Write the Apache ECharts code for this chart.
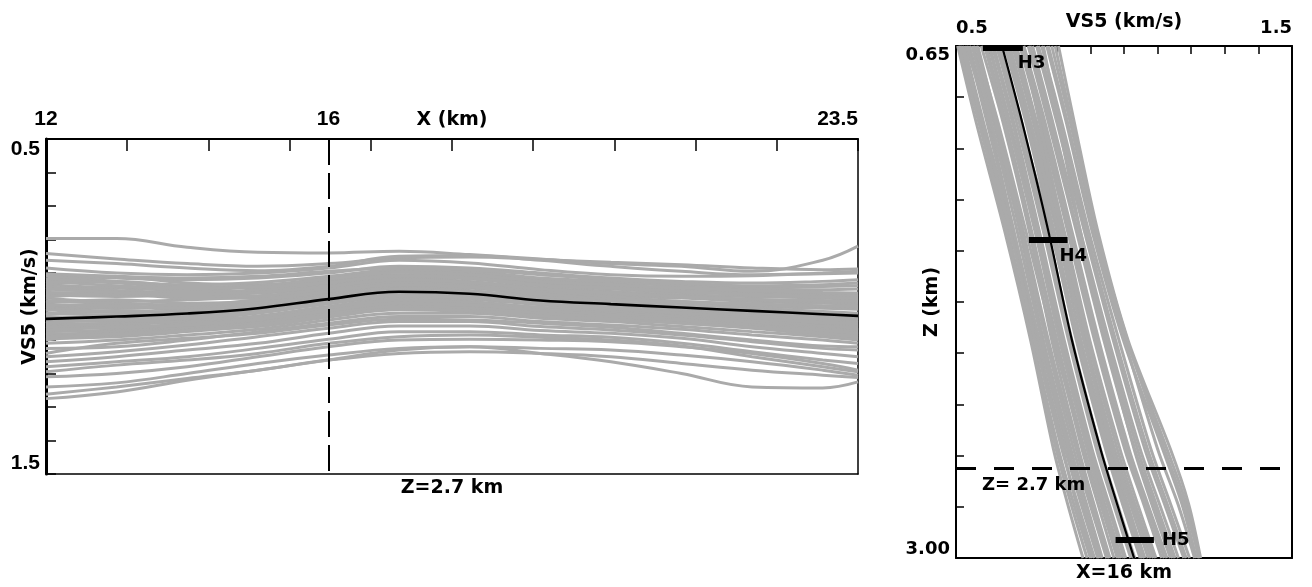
<!DOCTYPE html>
<html><head><meta charset="utf-8">
<script src="https://cdn.jsdelivr.net/npm/echarts@6/dist/echarts.min.js"></script>
<style>html,body{margin:0;padding:0;background:#fff}#c{width:1312px;height:587px}</style>
</head><body><div id="c"></div>
<script>
// ---------- Left panel: VS5 along X at Z = 2.7 km ----------
const xKm = [12, 13, 14, 15, 16, 17, 18, 19, 20, 21, 22, 23, 23.5];
const vsMeanAlongX = [1.037, 1.030, 1.021, 1.005, 0.978, 0.956, 0.962, 0.982, 0.993, 1.003, 1.013, 1.023, 1.028];
const vsRealizationsAlongX = [
  [0.797,0.797,0.823,0.838,0.840,0.835,0.845,0.858,0.872,0.880,0.895,0.862,0.820],
  [0.842,0.858,0.872,0.880,0.872,0.855,0.852,0.860,0.868,0.875,0.885,0.890,0.888],
  [0.862,0.872,0.885,0.893,0.880,0.850,0.848,0.862,0.880,0.895,0.905,0.902,0.900],
  [0.885,0.900,0.905,0.900,0.885,0.862,0.870,0.890,0.905,0.910,0.908,0.900,0.895],
  [0.905,0.915,0.920,0.915,0.900,0.880,0.885,0.900,0.915,0.925,0.930,0.925,0.920],
  [0.920,0.912,0.930,0.935,0.915,0.895,0.900,0.920,0.930,0.935,0.945,0.940,0.938],
  [0.935,0.945,0.950,0.940,0.920,0.905,0.912,0.930,0.940,0.950,0.955,0.960,0.962],
  [0.950,0.940,0.955,0.955,0.935,0.915,0.925,0.945,0.955,0.965,0.970,0.975,0.978],
  [0.965,0.970,0.965,0.960,0.945,0.925,0.930,0.952,0.968,0.975,0.985,0.990,0.992],
  [0.975,0.985,0.980,0.970,0.950,0.930,0.940,0.960,0.975,0.990,1.000,1.005,1.008],
  [0.990,0.980,0.990,0.985,0.958,0.940,0.945,0.968,0.985,0.995,1.005,1.015,1.020],
  [1.000,1.005,1.000,0.990,0.965,0.945,0.952,0.975,0.990,1.005,1.018,1.030,1.035],
  [1.012,1.000,1.010,1.000,0.972,0.950,0.958,0.980,0.998,1.010,1.025,1.040,1.045],
  [1.020,1.025,1.015,1.005,0.980,0.960,0.962,0.985,1.000,1.020,1.035,1.050,1.055],
  [1.045,1.040,1.030,1.012,0.985,0.965,0.970,0.990,1.005,1.015,1.030,1.045,1.050],
  [1.055,1.050,1.040,1.020,0.992,0.972,0.978,0.995,1.010,1.025,1.040,1.055,1.060],
  [1.065,1.055,1.045,1.028,1.000,0.978,0.985,1.005,1.018,1.030,1.045,1.060,1.068],
  [1.075,1.070,1.060,1.040,1.010,0.985,0.990,1.010,1.022,1.035,1.050,1.062,1.070],
  [1.085,1.075,1.065,1.045,1.018,0.995,1.000,1.018,1.030,1.040,1.055,1.070,1.078],
  [1.095,1.090,1.075,1.055,1.025,1.005,1.008,1.025,1.035,1.045,1.060,1.075,1.085],
  [1.110,1.100,1.085,1.068,1.040,1.020,1.020,1.035,1.045,1.060,1.075,1.090,1.100],
  [1.125,1.120,1.100,1.075,1.050,1.030,1.030,1.045,1.055,1.068,1.085,1.100,1.110],
  [1.150,1.135,1.115,1.090,1.065,1.045,1.045,1.060,1.070,1.085,1.105,1.125,1.130],
  [1.165,1.150,1.130,1.110,1.080,1.058,1.058,1.072,1.080,1.095,1.120,1.140,1.150],
  [1.180,1.165,1.150,1.125,1.098,1.075,1.075,1.085,1.092,1.110,1.135,1.160,1.170],
  [1.210,1.200,1.180,1.150,1.120,1.100,1.098,1.100,1.105,1.120,1.140,1.170,1.190],
  [1.240,1.228,1.200,1.170,1.145,1.125,1.120,1.125,1.130,1.145,1.165,1.190,1.205],
  [1.262,1.240,1.215,1.190,1.160,1.140,1.135,1.140,1.150,1.170,1.190,1.205,1.212],
  [1.275,1.255,1.220,1.190,1.160,1.130,1.120,1.140,1.165,1.200,1.240,1.243,1.225],
  [0.930,0.925,0.940,0.945,0.925,0.905,0.905,0.925,0.938,0.948,0.958,0.965,0.970],
  [1.030,1.035,1.025,1.005,0.978,0.958,0.965,0.985,0.998,1.010,1.022,1.030,1.030],
  [1.005,1.015,1.020,1.010,0.985,0.962,0.968,0.990,1.005,1.012,1.020,1.035,1.040],
  [0.958,0.960,0.975,0.975,0.955,0.935,0.938,0.955,0.970,0.985,0.995,1.000,1.002],
  [1.045,1.060,1.055,1.040,1.008,0.988,0.995,1.012,1.025,1.038,1.052,1.072,1.082],
  [1.100,1.080,1.070,1.060,1.032,1.010,1.015,1.030,1.040,1.050,1.065,1.085,1.095],
  [0.910,0.925,0.935,0.928,0.910,0.890,0.895,0.915,0.925,0.940,0.948,0.950,0.948],
  [1.140,1.110,1.095,1.080,1.055,1.038,1.040,1.050,1.062,1.080,1.100,1.118,1.120],
  [1.195,1.175,1.160,1.140,1.110,1.090,1.085,1.092,1.100,1.118,1.150,1.180,1.195],
  [0.918,0.930,0.942,0.938,0.918,0.898,0.905,0.925,0.935,0.945,0.952,0.958,0.960],
  [0.942,0.952,0.958,0.950,0.930,0.910,0.918,0.938,0.948,0.958,0.962,0.968,0.970],
  [0.972,0.962,0.970,0.968,0.948,0.928,0.935,0.955,0.962,0.972,0.980,0.985,0.988],
  [0.982,0.992,0.995,0.980,0.955,0.935,0.942,0.962,0.978,0.985,0.992,0.998,1.000],
  [0.995,0.998,1.005,0.995,0.968,0.948,0.955,0.972,0.985,0.998,1.008,1.020,1.025],
  [1.010,1.018,1.012,0.998,0.975,0.952,0.960,0.978,0.992,1.005,1.015,1.025,1.030],
  [1.025,1.012,1.018,1.008,0.982,0.962,0.968,0.988,1.002,1.015,1.028,1.042,1.048],
  [1.040,1.045,1.035,1.018,0.990,0.968,0.975,0.992,1.008,1.020,1.035,1.048,1.052],
  [1.050,1.040,1.048,1.030,1.002,0.980,0.988,1.002,1.015,1.028,1.042,1.058,1.062],
  [1.060,1.065,1.050,1.035,1.005,0.982,0.988,1.008,1.020,1.032,1.048,1.065,1.072],
  [1.070,1.062,1.055,1.038,1.012,0.990,0.995,1.012,1.025,1.038,1.055,1.068,1.075],
  [1.080,1.085,1.070,1.050,1.022,1.000,1.005,1.020,1.032,1.042,1.058,1.072,1.080],
  [0.948,0.958,0.962,0.958,0.940,0.920,0.928,0.948,0.960,0.970,0.978,0.982,0.985],
  [0.925,0.938,0.945,0.942,0.928,0.908,0.915,0.935,0.945,0.955,0.965,0.972,0.975],
  [0.902,0.910,0.915,0.910,0.895,0.885,0.890,0.905,0.920,0.930,0.938,0.935,0.930],
  [1.090,1.082,1.072,1.055,1.028,1.008,1.012,1.028,1.038,1.050,1.062,1.080,1.090]
];
const xTickLabels = [12, 16, 23.5];
const sectionX = 16;

// ---------- Right panel: VS5 profile with depth at X = 16 km ----------
const zKm = [0.65, 1.0, 1.5, 2.0, 2.5, 2.75, 3.0];
const vsMeanAlongZ = [0.637, 0.697, 0.775, 0.845, 0.930, 0.979, 1.030];
const vsRealizationsAlongZ = [
  [0.505,0.560,0.645,0.722,0.790,0.832,0.878],
  [0.512,0.575,0.655,0.728,0.805,0.850,0.900],
  [0.525,0.582,0.668,0.740,0.825,0.872,0.922],
  [0.540,0.598,0.672,0.742,0.818,0.858,0.905],
  [0.552,0.612,0.690,0.760,0.842,0.888,0.935],
  [0.565,0.622,0.700,0.775,0.858,0.905,0.955],
  [0.575,0.640,0.718,0.785,0.865,0.910,0.958],
  [0.590,0.648,0.725,0.800,0.882,0.930,0.980],
  [0.600,0.660,0.742,0.812,0.895,0.942,0.992],
  [0.612,0.672,0.748,0.822,0.905,0.955,1.005],
  [0.622,0.680,0.760,0.835,0.918,0.968,1.020],
  [0.632,0.695,0.772,0.845,0.930,0.980,1.032],
  [0.645,0.708,0.785,0.858,0.945,0.995,1.048],
  [0.655,0.715,0.800,0.872,0.958,1.008,1.062],
  [0.668,0.730,0.808,0.885,0.972,1.025,1.080],
  [0.680,0.740,0.822,0.898,0.988,1.040,1.095],
  [0.690,0.752,0.832,0.912,1.002,1.058,1.112],
  [0.702,0.765,0.845,0.925,1.015,1.070,1.128],
  [0.715,0.775,0.858,0.940,1.032,1.088,1.145],
  [0.728,0.788,0.870,0.955,1.048,1.105,1.162],
  [0.740,0.800,0.882,0.968,1.062,1.120,1.178],
  [0.755,0.815,0.895,0.985,1.080,1.138,1.195],
  [0.770,0.828,0.905,0.998,1.115,1.172,1.215],
  [0.785,0.840,0.915,1.008,1.128,1.185,1.222],
  [0.805,0.852,0.922,1.012,1.138,1.192,1.228],
  [0.560,0.625,0.708,0.790,0.880,0.932,0.985],
  [0.700,0.748,0.820,0.885,0.962,1.010,1.060],
  [0.620,0.690,0.782,0.862,0.952,1.002,1.052],
  [0.760,0.805,0.870,0.945,1.030,1.082,1.138],
  [0.530,0.600,0.695,0.772,0.860,0.905,0.950],
  [0.508,0.568,0.650,0.725,0.798,0.842,0.890],
  [0.518,0.578,0.662,0.735,0.815,0.862,0.912],
  [0.535,0.592,0.672,0.748,0.832,0.880,0.928],
  [0.548,0.605,0.682,0.755,0.835,0.880,0.925],
  [0.560,0.618,0.695,0.768,0.850,0.898,0.948],
  [0.585,0.645,0.722,0.795,0.875,0.922,0.970],
  [0.608,0.668,0.745,0.818,0.900,0.950,1.000],
  [0.628,0.688,0.765,0.840,0.925,0.975,1.028],
  [0.650,0.712,0.792,0.865,0.952,1.002,1.055],
  [0.672,0.735,0.815,0.892,0.980,1.032,1.088],
  [0.695,0.758,0.838,0.918,1.008,1.065,1.120],
  [0.720,0.782,0.862,0.948,1.040,1.095,1.152],
  [0.745,0.808,0.888,0.975,1.070,1.128,1.185],
  [0.775,0.832,0.908,1.002,1.100,1.160,1.210],
  [0.795,0.845,0.918,1.010,1.120,1.178,1.225],
  [0.660,0.722,0.805,0.880,0.965,1.018,1.072],
  [0.598,0.655,0.735,0.808,0.890,0.938,0.988]
];
const sectionZ = 2.59;
const horizonNames = ['H3', 'H4', 'H5'];
const horizonDepth = [0.659, 1.540, 2.917];
const horizonVsFrom = [0.580, 0.717, 0.975];
const horizonVsTo = [0.699, 0.832, 1.089];

// ---------- styles ----------
const GRAY = '#aaaaaa';
const NUM = 'Liberation Sans';
const NAMEF = 'DejaVu Sans';
const numStyle = {color:'#000', fontFamily:NUM, fontWeight:'bold', fontSize:21};
const rStyle = {color:'#000', fontFamily:NAMEF, fontWeight:'bold', fontSize:18};
const nameStyleL = {color:'#000', fontFamily:NAMEF, fontWeight:'bold', fontSize:19};

const series = [];
vsRealizationsAlongX.forEach(r => series.push({
  type:'line', xAxisIndex:0, yAxisIndex:0, data:xKm.map((x,i)=>[x,r[i]]),
  smooth:0.4, symbol:'none', silent:true, lineStyle:{color:GRAY,width:3}, z:2
}));
series.push({
  type:'line', xAxisIndex:0, yAxisIndex:0, data:xKm.map((x,i)=>[x,vsMeanAlongX[i]]),
  smooth:0.4, symbol:'none', silent:true, lineStyle:{color:'#000',width:2.6}, z:4,
  markLine:{symbol:'none', silent:true, animation:false, label:{show:false},
    lineStyle:{color:'#000', width:2, type:[26,8]}, data:[{xAxis:sectionX}]}
});
vsRealizationsAlongZ.forEach(r => series.push({
  type:'line', xAxisIndex:2, yAxisIndex:2, data:zKm.map((z,i)=>[r[i],z]),
  smooth:0.3, symbol:'none', silent:true, lineStyle:{color:GRAY,width:3}, z:2
}));
series.push({
  type:'line', xAxisIndex:2, yAxisIndex:2, data:zKm.map((z,i)=>[vsMeanAlongZ[i],z]),
  smooth:0.3, symbol:'none', silent:true, lineStyle:{color:'#000',width:2.2}, z:4,
  markLine:{symbol:'none', silent:true, animation:false,
    lineStyle:{color:'#000', width:3, type:[20,18]},
    label:{show:true, formatter:'Z= 2.7 km', position:'insideStartBottom', distance:[26,8], ...rStyle, fontSize:18},
    data:[{yAxis:sectionZ}]}
});
const hOffsets = [[-10,15],[-13,16],[3,0]];
horizonNames.forEach((n,i) => series.push({
  type:'line', xAxisIndex:2, yAxisIndex:2,
  data:[[horizonVsFrom[i],horizonDepth[i]],[horizonVsTo[i],horizonDepth[i]]],
  symbol:'none', silent:true, lineStyle:{color:'#000',width:6}, z:6,
  endLabel:{show:true, formatter:n, offset:hOffsets[i], distance:5, ...rStyle}
}));

const option = {
  animation:false,
  backgroundColor:'#fff',
  grid:[
    {left:46, top:139, width:812, height:335, containLabel:false, outerBoundsMode:'none'},
    {left:956, top:46, width:336, height:512, containLabel:false, outerBoundsMode:'none'}
  ],
  xAxis:[
    {gridIndex:0, type:'value', position:'top', min:12, max:23.5, interval:1.15,
     name:'X (km)', nameLocation:'middle', nameGap:9, nameMoveOverlap:false,
     nameTextStyle:{...nameStyleL, verticalAlign:'bottom'},
     axisLine:{show:true, onZero:false, lineStyle:{color:'#000', width:2}},
     axisTick:{show:true, inside:true, length:12, lineStyle:{color:'#000', width:1.5}},
     axisLabel:{show:true, customValues:xTickLabels, margin:9, alignMaxLabel:'right', ...numStyle,
       formatter:v=>String(v)},
     splitLine:{show:false}},
    {gridIndex:0, type:'value', position:'bottom', min:12, max:23.5,
     name:'Z=2.7 km', nameLocation:'middle', nameGap:5, nameMoveOverlap:false,
     nameTextStyle:{...nameStyleL, verticalAlign:'top'},
     axisLine:{show:true, onZero:false, lineStyle:{color:'#000', width:1.5}},
     axisTick:{show:false}, axisLabel:{show:false}, splitLine:{show:false}},
    {gridIndex:1, type:'value', position:'top', min:0.5, max:1.5, interval:0.1,
     name:'VS5 (km/s)', nameLocation:'middle', nameGap:14, nameMoveOverlap:false,
     nameTextStyle:{...rStyle, fontSize:19, verticalAlign:'bottom'},
     axisLine:{show:true, onZero:false, lineStyle:{color:'#000', width:2}},
     axisTick:{show:true, inside:true, length:8, lineStyle:{color:'#000', width:1.5}},
     axisLabel:{show:true, margin:9, alignMinLabel:'left', alignMaxLabel:'right', ...rStyle,
       formatter:v=>(Math.abs(v-0.5)<1e-6?'0.5':(Math.abs(v-1.5)<1e-6?'1.5':''))},
     splitLine:{show:false}},
    {gridIndex:1, type:'value', position:'bottom', min:0.5, max:1.5,
     name:'X=16 km', nameLocation:'middle', nameGap:6, nameMoveOverlap:false,
     nameTextStyle:{...rStyle, fontSize:19, verticalAlign:'top'},
     axisLine:{show:true, onZero:false, lineStyle:{color:'#000', width:2}},
     axisTick:{show:false}, axisLabel:{show:false}, splitLine:{show:false}}
  ],
  yAxis:[
    {gridIndex:0, type:'value', position:'left', inverse:true, min:0.5, max:1.5, interval:0.1,
     name:'VS5 (km/s)', nameLocation:'middle', nameGap:6, nameRotate:90, nameMoveOverlap:false,
     nameTextStyle:{...nameStyleL},
     axisLine:{show:true, onZero:false, lineStyle:{color:'#000', width:3}},
     axisTick:{show:true, inside:true, length:10, lineStyle:{color:'#000', width:1.5}},
     axisLabel:{show:true, margin:6, verticalAlignMinLabel:'top', verticalAlignMaxLabel:'bottom', ...numStyle,
       formatter:v=>(Math.abs(v-0.5)<1e-6?'0.5':(Math.abs(v-1.5)<1e-6?'1.5':''))},
     splitLine:{show:false}},
    {gridIndex:0, type:'value', position:'right', inverse:true, min:0.5, max:1.5,
     axisLine:{show:true, onZero:false, lineStyle:{color:'#000', width:1.5}},
     axisTick:{show:false}, axisLabel:{show:false}, splitLine:{show:false}},
    {gridIndex:1, type:'value', position:'left', inverse:true, min:0.65, max:3.0, interval:0.235,
     name:'Z (km)', nameLocation:'middle', nameGap:14, nameRotate:90, nameMoveOverlap:false,
     nameTextStyle:{...rStyle, fontSize:19},
     axisLine:{show:true, onZero:false, lineStyle:{color:'#000', width:2}},
     axisTick:{show:true, inside:true, length:8, lineStyle:{color:'#000', width:1.5}},
     axisLabel:{show:true, margin:6, verticalAlignMinLabel:'top', verticalAlignMaxLabel:'bottom', ...rStyle,
       formatter:v=>(Math.abs(v-0.65)<1e-6?'0.65':(Math.abs(v-3.0)<1e-6?'3.00':''))},
     splitLine:{show:false}},
    {gridIndex:1, type:'value', position:'right', inverse:true, min:0.65, max:3.0,
     axisLine:{show:true, onZero:false, lineStyle:{color:'#000', width:2}},
     axisTick:{show:false}, axisLabel:{show:false}, splitLine:{show:false}}
  ],
  series:series
};
const chart = echarts.init(document.getElementById('c'), null, {renderer:'canvas'});
chart.setOption(option);
</script>
</body></html>
